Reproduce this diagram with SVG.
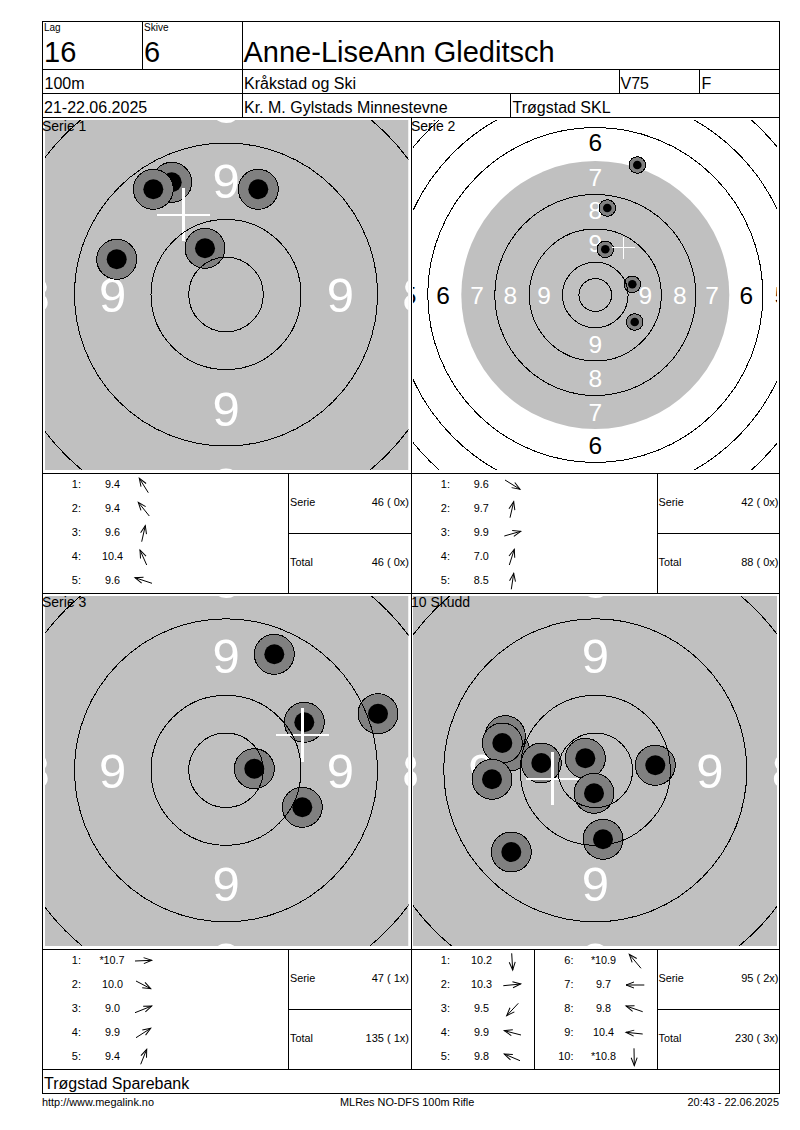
<svg xmlns="http://www.w3.org/2000/svg" width="800" height="1130" viewBox="0 0 800 1130">
<style>
text{font-family:"Liberation Sans",Arial,sans-serif;fill:#000}
.f{fill:none;stroke:#000;stroke-width:1}
.bg{fill:#c0c0c0}
.ring{fill:none;stroke:#000;stroke-width:1;shape-rendering:crispEdges}
.big{font-size:49px;fill:#fff;text-anchor:middle}
.mid{font-size:24.5px;fill:#fff;text-anchor:middle}
.blk{fill:#000}
.s{fill:#808080;stroke:#000;stroke-width:1;shape-rendering:crispEdges}
.d{fill:#000}
.x2{stroke:#fff;stroke-width:2;shape-rendering:crispEdges}
.x3{stroke:#fff;stroke-width:3;shape-rendering:crispEdges}
.x1{stroke:#fff;stroke-width:1;shape-rendering:crispEdges}
.t10{font-size:10px}
.h29{font-size:29px}
.h16{font-size:16px}
.l14{font-size:14px}
.r{font-size:10.8px}
.n{font-size:11px;text-anchor:end}
.v{font-size:10.8px;text-anchor:middle}
.a{fill:none;stroke:#000;stroke-width:1;marker-end:url(#ah)}
.ft{font-size:10.9px}
</style>
<defs>
<marker id="ah" markerUnits="userSpaceOnUse" markerWidth="10" markerHeight="10" viewBox="-9 -5 10 10" refX="0" refY="0" orient="auto" overflow="visible">
<path d="M-8,-3 L0,0 L-8,3" fill="none" stroke="#000" stroke-width="1"/>
</marker>
<clipPath id="c1"><rect x="45" y="120" width="363.5" height="350"/></clipPath>
<clipPath id="c2"><rect x="413" y="120" width="364" height="350"/></clipPath>
<clipPath id="c3"><rect x="45" y="596" width="363.5" height="350"/></clipPath>
<clipPath id="c4"><rect x="413" y="596" width="364" height="350"/></clipPath>
<g id="rings"><circle class="ring" r="37.3"/><circle class="ring" r="75"/><circle class="ring" r="151.5"/><circle class="ring" r="227"/></g>
<g id="nums">
<text class="big" x="0" y="-97">9</text><text class="big" x="-113.5" y="17.5">9</text><text class="big" x="114.5" y="17.5">9</text><text class="big" x="0" y="131">9</text>
<text class="big" x="-190" y="17.5">8</text><text class="big" x="190" y="17.5">8</text><text class="big" x="0" y="-172">8</text><text class="big" x="0" y="207">8</text>
</g>
</defs>
<rect width="800" height="1130" fill="#fff"/>

<g id="panel1">
<g clip-path="url(#c1)">
<rect class="bg" x="45" y="120" width="363.5" height="350"/>
<use href="#nums" x="226" y="294.5"/>
<circle class="s" cx="171.7" cy="182.3" r="20"/><circle class="d" cx="171.7" cy="182.3" r="10"/>
<circle class="s" cx="153.3" cy="189.3" r="20"/><circle class="d" cx="153.3" cy="189.3" r="10"/>
<circle class="s" cx="258.3" cy="189.3" r="20"/><circle class="d" cx="258.3" cy="189.3" r="10"/>
<circle class="s" cx="205" cy="248.3" r="20"/><circle class="d" cx="205" cy="248.3" r="10"/>
<circle class="s" cx="116.7" cy="259.3" r="20"/><circle class="d" cx="116.7" cy="259.3" r="10"/>
<path class="x2" d="M157,215H210"/><path class="x3" d="M183.5,188V241"/>
<use href="#rings" x="226" y="294.5"/>
</g>
<text class="l14" x="42" y="131">Serie 1</text>
</g>

<g id="panel2">
<g clip-path="url(#c2)">
<circle class="bg" cx="595.3" cy="295" r="134"/>
<text class="mid blk" style="fill:#000" x="409.5" y="303.8">5</text><text class="mid" style="fill:#000" x="781.5" y="303.8">5</text>
<text class="mid" style="fill:#000" x="443" y="303.8">6</text><text class="mid" x="477" y="303.8">7</text><text class="mid" x="510.3" y="303.8">8</text><text class="mid" x="544" y="303.8">9</text>
<text class="mid" x="645.3" y="303.8">9</text><text class="mid" x="679.7" y="303.8">8</text><text class="mid" x="712" y="303.8">7</text><text class="mid" style="fill:#000" x="746.3" y="303.8">6</text>
<text class="mid" style="fill:#000" x="595.3" y="151">6</text><text class="mid" x="595.3" y="185.5">7</text><text class="mid" x="595.3" y="219">8</text><text class="mid" x="595.3" y="252">9</text>
<text class="mid" x="595.3" y="353">9</text><text class="mid" x="595.3" y="387">8</text><text class="mid" x="595.3" y="420.5">7</text><text class="mid" style="fill:#000" x="595.3" y="454">6</text>
<circle class="s" cx="637.3" cy="165" r="8.3"/><circle class="d" cx="637.3" cy="165" r="4.3"/>
<circle class="s" cx="607.3" cy="208" r="8.3"/><circle class="d" cx="607.3" cy="208" r="4.3"/>
<circle class="s" cx="605.3" cy="249.3" r="8.3"/><circle class="d" cx="605.3" cy="249.3" r="4.3"/>
<circle class="s" cx="632.3" cy="284.3" r="8.3"/><circle class="d" cx="632.3" cy="284.3" r="4.3"/>
<circle class="s" cx="634.7" cy="322" r="8.3"/><circle class="d" cx="634.7" cy="322" r="4.3"/>
<path class="x1" d="M612,247.5H634.6M623.5,236.5V258.5"/>
<g transform="translate(595.3 295)"><circle class="ring" r="16.4"/><circle class="ring" r="32.8"/><circle class="ring" r="66"/><circle class="ring" r="100.5"/><circle class="ring" r="167.5"/><circle class="ring" r="201"/><circle class="ring" r="234.5"/></g>
</g>
<text class="l14" x="411" y="131">Serie 2</text>
</g>

<g id="panel3">
<g clip-path="url(#c3)">
<rect class="bg" x="45" y="596" width="363.5" height="350"/>
<use href="#nums" x="226" y="770.3"/>
<circle class="s" cx="254.3" cy="768.7" r="20"/><circle class="d" cx="254.3" cy="768.7" r="10"/>
<circle class="s" cx="302.3" cy="807.3" r="20"/><circle class="d" cx="302.3" cy="807.3" r="10"/>
<circle class="s" cx="274.3" cy="654.3" r="20"/><circle class="d" cx="274.3" cy="654.3" r="10"/>
<circle class="s" cx="304.3" cy="722.3" r="20"/><circle class="d" cx="304.3" cy="722.3" r="10"/>
<circle class="s" cx="378" cy="713.7" r="20"/><circle class="d" cx="378" cy="713.7" r="10"/>
<path class="x2" d="M276,735H329"/><path class="x3" d="M302.5,708V762"/>
<use href="#rings" x="226" y="770.3"/>
</g>
<text class="l14" x="42" y="607">Serie 3</text>
</g>

<g id="panel4">
<g clip-path="url(#c4)">
<rect class="bg" x="413" y="596" width="364" height="350"/>
<use href="#nums" x="595.3" y="770.3"/>
<circle class="s" cx="509.7" cy="751" r="20"/><circle class="d" cx="509.7" cy="751" r="10"/>
<circle class="s" cx="505.3" cy="735.7" r="20"/><circle class="d" cx="505.3" cy="735.7" r="10"/>
<circle class="s" cx="502.3" cy="743" r="20"/><circle class="d" cx="502.3" cy="743" r="10"/>
<circle class="s" cx="492" cy="779.3" r="20"/><circle class="d" cx="492" cy="779.3" r="10"/>
<circle class="s" cx="541.3" cy="763" r="20"/><circle class="d" cx="541.3" cy="763" r="10"/>
<circle class="s" cx="585.3" cy="758.3" r="20"/><circle class="d" cx="585.3" cy="758.3" r="10"/>
<circle class="s" cx="594" cy="793.3" r="20"/><circle class="d" cx="594" cy="793.3" r="10"/>
<circle class="s" cx="655.3" cy="765.3" r="20"/><circle class="d" cx="655.3" cy="765.3" r="10"/>
<circle class="s" cx="603" cy="839.3" r="20"/><circle class="d" cx="603" cy="839.3" r="10"/>
<circle class="s" cx="511.3" cy="852" r="20"/><circle class="d" cx="511.3" cy="852" r="10"/>
<path class="x2" d="M526,779H579"/><path class="x3" d="M552.5,752V805"/>
<use href="#rings" x="595.3" y="770.3"/>
</g>
<text class="l14" x="411" y="607">10 Skudd</text>
</g>

<g id="header">
<text class="t10" x="44" y="31">Lag</text>
<text class="t10" x="144" y="31">Skive</text>
<text class="h29" x="44" y="62">16</text>
<text class="h29" x="144" y="62">6</text>
<text class="h29" x="243.5" y="62">Anne-LiseAnn Gleditsch</text>
<text class="h16" x="44.5" y="89">100m</text>
<text class="h16" x="244" y="89">Kråkstad og Ski</text>
<text class="h16" x="620.5" y="89">V75</text>
<text class="h16" x="701.5" y="89">F</text>
<text class="h16" x="44" y="113">21-22.06.2025</text>
<text class="h16" x="244" y="113">Kr. M. Gylstads Minnestevne</text>
<text class="h16" x="512.5" y="113">Trøgstad SKL</text>
</g>

<g id="stats1">
<text class="n" x="81" y="488">1:</text><text class="v" x="112.5" y="488">9.4</text>
<text class="n" x="81" y="512">2:</text><text class="v" x="112.5" y="512">9.4</text>
<text class="n" x="81" y="536">3:</text><text class="v" x="112.5" y="536">9.6</text>
<text class="n" x="81" y="560">4:</text><text class="v" x="112.5" y="560">10.4</text>
<text class="n" x="81" y="584">5:</text><text class="v" x="112.5" y="584">9.6</text>
<text class="r" x="290" y="506">Serie</text><text class="n" x="409" y="506">46 ( 0x)</text>
<text class="r" x="290" y="566">Total</text><text class="n" x="409" y="566">46 ( 0x)</text>
</g>
<g id="stats2">
<text class="n" x="450" y="488">1:</text><text class="v" x="481.3" y="488">9.6</text>
<text class="n" x="450" y="512">2:</text><text class="v" x="481.3" y="512">9.7</text>
<text class="n" x="450" y="536">3:</text><text class="v" x="481.3" y="536">9.9</text>
<text class="n" x="450" y="560">4:</text><text class="v" x="481.3" y="560">7.0</text>
<text class="n" x="450" y="584">5:</text><text class="v" x="481.3" y="584">8.5</text>
<text class="r" x="658.5" y="506">Serie</text><text class="n" x="778.5" y="506">42 ( 0x)</text>
<text class="r" x="658.5" y="566">Total</text><text class="n" x="778.5" y="566">88 ( 0x)</text>
</g>
<g id="stats3">
<text class="n" x="81" y="964">1:</text><text class="v" x="112" y="964">*10.7</text>
<text class="n" x="81" y="988">2:</text><text class="v" x="112.5" y="988">10.0</text>
<text class="n" x="81" y="1012">3:</text><text class="v" x="112.5" y="1012">9.0</text>
<text class="n" x="81" y="1036">4:</text><text class="v" x="112.5" y="1036">9.9</text>
<text class="n" x="81" y="1060">5:</text><text class="v" x="112.5" y="1060">9.4</text>
<text class="r" x="290" y="982">Serie</text><text class="n" x="409" y="982">47 ( 1x)</text>
<text class="r" x="290" y="1042">Total</text><text class="n" x="409" y="1042">135 ( 1x)</text>
</g>
<g id="stats4">
<text class="n" x="450" y="964">1:</text><text class="v" x="481.5" y="964">10.2</text>
<text class="n" x="450" y="988">2:</text><text class="v" x="481.5" y="988">10.3</text>
<text class="n" x="450" y="1012">3:</text><text class="v" x="481.5" y="1012">9.5</text>
<text class="n" x="450" y="1036">4:</text><text class="v" x="481.5" y="1036">9.9</text>
<text class="n" x="450" y="1060">5:</text><text class="v" x="481.5" y="1060">9.8</text>
<text class="n" x="573.5" y="964">6:</text><text class="v" x="603.5" y="964">*10.9</text>
<text class="n" x="573.5" y="988">7:</text><text class="v" x="603.5" y="988">9.7</text>
<text class="n" x="573.5" y="1012">8:</text><text class="v" x="603.5" y="1012">9.8</text>
<text class="n" x="573.5" y="1036">9:</text><text class="v" x="603.5" y="1036">10.4</text>
<text class="n" x="573.5" y="1060">10:</text><text class="v" x="603.5" y="1060">*10.8</text>
<text class="r" x="658.5" y="982">Serie</text><text class="n" x="778.5" y="982">95 ( 2x)</text>
<text class="r" x="658.5" y="1042">Total</text><text class="n" x="778.5" y="1042">230 ( 3x)</text>
</g>

<g id="footer">
<text class="h16" x="44" y="1089">Trøgstad Sparebank</text>
<text class="ft" x="42" y="1106">http://www.megalink.no</text>
<text class="ft" x="340" y="1106">MLRes NO-DFS 100m Rifle</text>
<text class="ft" x="779" y="1106" text-anchor="end">20:43 - 22.06.2025</text>
</g>

<g id="connectors">
<path class="a" d="M148.3,492.7L139.3,478.3"/>
<path class="a" d="M149.3,516L138.3,502.3"/>
<path class="a" d="M141.7,541.7L145.3,525.7"/>
<path class="a" d="M146.7,565L140,550"/>
<path class="a" d="M152,583.3L135,577.7"/>
<path class="a" d="M505,480L520,489.3"/>
<path class="a" d="M510,517.7L513.7,501.7"/>
<path class="a" d="M504.3,536L520.7,531.3"/>
<path class="a" d="M509.3,565L514.3,549.3"/>
<path class="a" d="M511.3,589.3L513.7,573.3"/>
<path class="a" d="M135,961L151.7,960.3"/>
<path class="a" d="M136,981L150.7,988.7"/>
<path class="a" d="M135,1012.7L151.7,1006"/>
<path class="a" d="M136,1037.7L150.7,1028.3"/>
<path class="a" d="M140.7,1064.3L146.7,1049.3"/>
<path class="a" d="M511.7,953.3L512.7,970"/>
<path class="a" d="M503.3,985.7L520.7,984"/>
<path class="a" d="M518.3,1003.3L506.7,1015.7"/>
<path class="a" d="M521,1035L504.3,1030.7"/>
<path class="a" d="M520,1060.7L504.3,1054"/>
<path class="a" d="M641,968.3L629.3,954.3"/>
<path class="a" d="M644.3,985L626,985"/>
<path class="a" d="M642.7,1011.7L626,1006"/>
<path class="a" d="M642.7,1034L626,1032.3"/>
<path class="a" d="M634,1048.3L634.3,1065.7"/>
</g>

<g id="grid">
<rect class="f" x="42.5" y="21.5" width="737" height="1072"/>
<path class="f" d="M42.5,69.5H779.5M42.5,93.5H779.5M42.5,117.5H779.5M42.5,473.5H779.5M42.5,593.5H779.5M42.5,949.5H779.5M42.5,1069.5H779.5"/>
<path class="f" d="M142.5,21.5V69.5M242.5,21.5V117.5M619.5,69.5V93.5M699.5,69.5V93.5M510.5,93.5V117.5M411.5,117.5V1069.5"/>
<path class="f" d="M288.5,473.5V593.5M657.5,473.5V593.5M288.5,949.5V1069.5M534.5,949.5V1069.5M657.5,949.5V1069.5"/>
<path class="f" d="M288.5,533.5H411.5M657.5,533.5H779.5M288.5,1009.5H411.5M657.5,1009.5H779.5"/>
</g>
</svg>
